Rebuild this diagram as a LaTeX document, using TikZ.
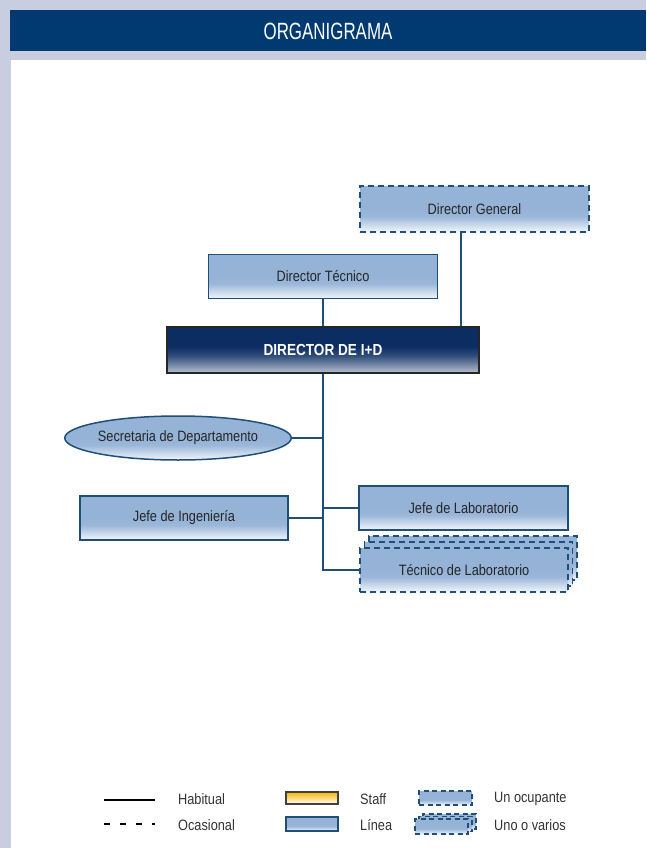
\documentclass[tikz,border=0pt]{standalone}
\usepackage{fontspec}
\setmainfont{Liberation Sans}[FakeStretch=0.85]
\newfontfamily\titlefont{Liberation Sans}[FakeStretch=0.72]
\usetikzlibrary{shapes.geometric,positioning,calc}

\definecolor{bandcol}{HTML}{C8CEE0}
\definecolor{titlecol}{HTML}{003A70}
\definecolor{boxblue}{HTML}{95B3D7}
\definecolor{edgeblue}{HTML}{1F4E79}
\definecolor{navy}{HTML}{0B2D62}
\definecolor{staffyel}{HTML}{F7B500}

% fades: 25bp = bottom of the node, 75bp = top
\pgfdeclareverticalshading{boxfade}{100bp}{color(0bp)=(boxblue!12); color(25bp)=(boxblue!12); color(42bp)=(boxblue!95); color(50bp)=(boxblue); color(100bp)=(boxblue)}
\pgfdeclareverticalshading{darkfade}{100bp}{color(0bp)=(navy!30); color(25bp)=(navy!30); color(44bp)=(navy!85); color(54bp)=(navy); color(100bp)=(navy)}
\pgfdeclareverticalshading{stafffade}{100bp}{color(0bp)=(white); color(25bp)=(white); color(75bp)=(staffyel); color(100bp)=(staffyel)}

\begin{document}
\begin{tikzpicture}[
  x=1pt, y=-1pt,
  font=\fontsize{15}{18}\selectfont,
  puesto/.style={rectangle, draw=edgeblue, line width=1.5pt, shading=boxfade, text=black!85,
                 minimum width=229pt, minimum height=44pt, inner sep=2pt, align=center},
  ocasional/.style={puesto, dash pattern=on 6pt off 4pt},
  direccion/.style={rectangle, draw=black!85, line width=1.5pt, shading=darkfade, text=white,
                    minimum width=312pt, minimum height=46pt, font=\fontsize{16}{19}\selectfont\bfseries},
  apoyo/.style={ellipse, draw=edgeblue, line width=1.5pt, shading=boxfade, text=black!85,
                minimum width=222pt, minimum height=44pt, inner sep=0pt},
  link/.style={draw=edgeblue, line width=1.6pt},
  leybox/.style={rectangle, line width=1.2pt, minimum width=52pt, minimum height=13pt, inner sep=0pt},
  leyenda/.style={anchor=west, inner sep=0pt, text=black!80},
]

\useasboundingbox (0,0) rectangle (646,848);
\fill[bandcol] (0,0) rectangle (646,848);
\fill[white] (11,60) rectangle (646,848);
\fill[titlecol] (10,10) rectangle (646,51);
\node[text=white, font=\titlefont\fontsize{23.5}{28}\selectfont] (titulo) at (328,31) {ORGANIGRAMA};

\node[direccion] (did) at (323,350) {DIRECTOR DE I+D};
\node[puesto, above=27pt of did] (tec) {Director Técnico};
\node[ocasional, minimum height=46pt] (gen) at (474.5,209) {Director General};
\node[apoyo] (sec) at (178,438) {Secretaria de Departamento};
\node[puesto, minimum width=208pt] (ing) at (184,518) {Jefe de Ingeniería};
\node[puesto, minimum width=209pt] (lab) at (463.5,508) {Jefe de Laboratorio};
\foreach \k in {2,1}
  \node[ocasional, minimum width=208pt] (tlab\k) at ($(464,570)+(4.5*\k,-6*\k)$) {};
\node[ocasional, minimum width=208pt] (tlab) at (464,570) {Técnico de Laboratorio};

\draw[link] (tec.south) -- (tec.south |- did.north);
\draw[link] ([xshift=-13.5pt]gen.south) -- ([xshift=-13.5pt]gen.south |- did.north);
\draw[link] (did.south) |- (tlab.west);
\draw[link] (sec.east) -- (sec.east -| did.south);
\draw[link] (ing.east) -- (ing.east -| did.south);
\draw[link] (lab.west) -- (lab.west -| did.south);

% leyenda
\coordinate (hab) at (104,800);
\coordinate (oca) at (104,824);
\draw[black, line width=1.4pt] (hab) -- ++(51,0);
\draw[black, line width=1.1pt, dash pattern=on 6pt off 10pt] (oca) -- ++(51,0);
\node[leyenda] (lhab) at (178,799) {Habitual};
\node[leyenda] (loca) at (178,825) {Ocasional};

\node[leybox, draw=black!75, shading=stafffade, minimum height=12pt] (lstaff) at (312,798) {};
\node[leybox, draw=edgeblue, shading=boxfade, minimum height=14pt] (llinea) at (312,824) {};
\node[leyenda] (tstaff) at (360,799) {Staff};
\node[leyenda] (tlinea) at (360,825) {Línea};

\node[leybox, draw=edgeblue, shading=boxfade, dash pattern=on 5pt off 3.5pt, minimum width=53pt, minimum height=14pt] (luno) at (445.5,798) {};
\foreach \k in {2,1,0}
  \node[leybox, draw=edgeblue, shading=boxfade, dash pattern=on 5pt off 3.5pt, minimum width=53pt, minimum height=15pt]
    (lvar\k) at ($(441.5,826.5)+(4*\k,-2.5*\k)$) {};
\node[leyenda] (tuno) at (494,799) {Un ocupante};
\node[leyenda] (tvar) at (494,825) {Uno o varios};

\end{tikzpicture}
\end{document}
